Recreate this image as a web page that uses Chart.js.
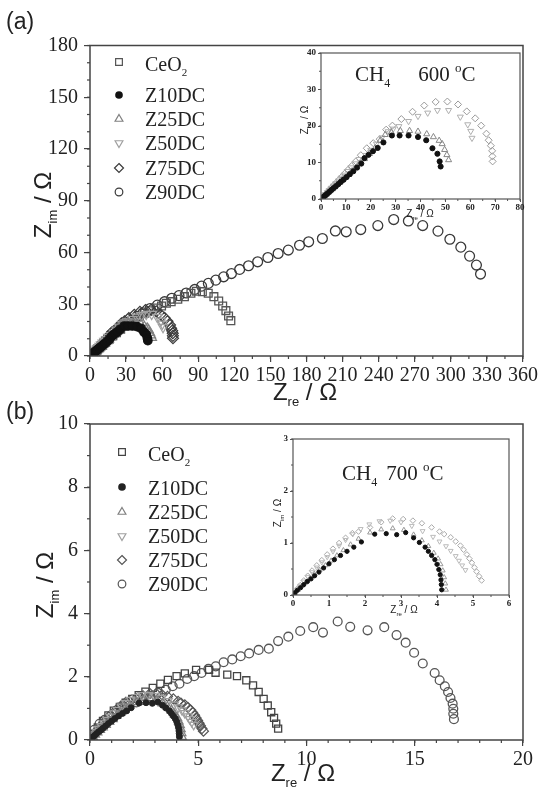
<!DOCTYPE html>
<html><head><meta charset="utf-8">
<script src="https://cdn.jsdelivr.net/npm/chart.js@4.4.1/dist/chart.umd.min.js"></script>
<style>
body{margin:0;width:542px;height:787px;background:#fff;position:relative;overflow:hidden}
canvas{position:absolute}
.t{position:absolute;white-space:nowrap;line-height:1;color:#222;z-index:5}
.ser{font-family:"Liberation Serif","Times New Roman",serif}
.san{font-family:"Liberation Sans",Arial,sans-serif}
.c{transform:translate(-50%,-50%)}
.r{transform:translate(-50%,-50%) rotate(-90deg)}
</style></head><body>
<canvas id="ca" width="542" height="400" style="left:0;top:0"></canvas>
<canvas id="cb" width="542" height="387" style="left:0;top:400px"></canvas>
<canvas id="cai" width="262" height="185" style="left:280px;top:40px"></canvas>
<canvas id="cbi" width="287" height="190" style="left:255px;top:430px"></canvas>

<div class="t san" style="left:6px;top:10px;font-size:23px">(a)</div>
<div class="t san" style="left:6px;top:400px;font-size:23px">(b)</div>

<div class="t san c" style="left:305px;top:394px;font-size:24px">Z<sub style="font-size:13px;vertical-align:-6px">re</sub> / Ω</div>
<div class="t san r" style="left:45px;top:205px;font-size:24px">Z<sub style="font-size:13px;vertical-align:-6px">im</sub> / Ω</div>
<div class="t san c" style="left:303px;top:775px;font-size:24px">Z<sub style="font-size:13px;vertical-align:-6px">re</sub> / Ω</div>
<div class="t san r" style="left:47px;top:585px;font-size:24px">Z<sub style="font-size:13px;vertical-align:-6px">im</sub> / Ω</div>

<div class="t san c" style="left:420px;top:215px;font-size:10px">Z<sub style="font-size:6px;vertical-align:-3px">re</sub> / Ω</div>
<div class="t san r" style="left:306px;top:120px;font-size:10px">Z<sub style="font-size:6px;vertical-align:-3px">im</sub> / Ω</div>
<div class="t san c" style="left:404px;top:611px;font-size:10px">Z<sub style="font-size:6px;vertical-align:-3px">re</sub> / Ω</div>
<div class="t san r" style="left:279px;top:513px;font-size:10px">Z<sub style="font-size:6px;vertical-align:-3px">im</sub> / Ω</div>

<div class="t ser" style="left:355px;top:61px;font-size:21px">CH<sub style="font-size:12px;vertical-align:-6px">4</sub><span style="margin-left:28px">600 </span><sup style="font-size:13px;vertical-align:9px">o</sup>C</div>
<div class="t ser" style="left:342px;top:460px;font-size:21px">CH<sub style="font-size:12px;vertical-align:-6px">4</sub><span style="margin-left:9px">700 </span><sup style="font-size:13px;vertical-align:9px">o</sup>C</div>

<div class="t ser" style="left:145px;top:54px;font-size:20px">CeO<sub style="font-size:11px;vertical-align:-5px">2</sub></div>
<div class="t ser" style="left:145px;top:85px;font-size:20px">Z10DC</div>
<div class="t ser" style="left:145px;top:109px;font-size:20px">Z25DC</div>
<div class="t ser" style="left:145px;top:133px;font-size:20px">Z50DC</div>
<div class="t ser" style="left:145px;top:158px;font-size:20px">Z75DC</div>
<div class="t ser" style="left:145px;top:182px;font-size:20px">Z90DC</div>

<div class="t ser" style="left:148px;top:444px;font-size:20px">CeO<sub style="font-size:11px;vertical-align:-5px">2</sub></div>
<div class="t ser" style="left:148px;top:478px;font-size:20px">Z10DC</div>
<div class="t ser" style="left:148px;top:502px;font-size:20px">Z25DC</div>
<div class="t ser" style="left:148px;top:526px;font-size:20px">Z50DC</div>
<div class="t ser" style="left:148px;top:550px;font-size:20px">Z75DC</div>
<div class="t ser" style="left:148px;top:574px;font-size:20px">Z90DC</div>

<script>
// ---------- DATA (Z_re, Z_im) in ohm ----------
// Panel (a): CH4, 600 °C
const a_CeO2 = [[1.5,0.8],[3.5,2],[5.5,3.3],[8,4.8],[10.5,6.3],[13,8],[16,9.8],[19,11.7],[22,13.5],[25.5,15.5],[29,17.5],[33,19.5],[37,21.3],[41,23],[45.5,24.8],[50,26.2],[55,27.8],[59.5,29],[63.5,30.6],[67.5,31.5],[73,32.9],[78.5,34.4],[83.9,36.4],[88.5,37.5],[93.4,37.3],[98.3,36.4],[103,34.4],[107,31.9],[110.3,29],[113,26.3],[115.2,23.2],[117.1,20.5]];
const a_Z10DC = [[0.6,0.3],[1.2,0.7],[1.9,1.1],[2.6,1.5],[3.4,2],[4.2,2.5],[5.1,3],[6,3.5],[7,4.1],[8,4.7],[9.1,5.3],[10.3,6],[11.6,6.8],[13,7.6],[14.5,8.6],[16.2,9.7],[17.5,11.2],[19.1,12.1],[20.9,13.1],[22.8,14],[25.1,15.5],[28.5,17.4],[31.6,17.4],[35.2,17.4],[39,17],[42.3,16.1],[44.8,13.9],[46.8,12.4],[47.7,10.3],[48.1,8.9]];
const a_Z25DC = [[0.6,0.35],[1.3,0.8],[2,1.2],[2.8,1.7],[3.6,2.2],[4.5,2.7],[5.4,3.3],[6.4,3.9],[7.4,4.5],[8.5,5.2],[9.7,5.9],[11,6.7],[12.4,7.6],[14,8.6],[15.7,9.8],[17.5,11],[19.5,12.4],[21.7,13.9],[23.8,16],[25.8,17.6],[28.3,18.3],[31.9,18.7],[35.6,18.7],[39,18.5],[42.5,17.8],[45.2,17],[47.5,16],[48.7,15.1],[49.7,13.5],[50.6,12.1],[51.3,10.7]];
const a_Z50DC = [[0.5,0.35],[1.1,0.8],[1.8,1.3],[2.5,1.8],[3.3,2.4],[4.1,3],[5,3.6],[6,4.3],[7,5],[8.1,5.8],[9.3,6.6],[10.6,7.6],[12,8.6],[13.6,9.7],[15.3,10.9],[18,12],[20,13.4],[22.3,15.1],[24.5,16.8],[27,18.5],[29,19.2],[31.3,19.9],[35.2,21.3],[39,22.7],[42.9,23.6],[46.8,24.3],[51.3,24.3],[56,22.5],[59,20.4],[60.2,18.6],[60.7,16.7]];
const a_Z75DC = [[0.5,0.4],[1.1,0.85],[1.8,1.35],[2.6,1.9],[3.4,2.5],[4.3,3.1],[5.2,3.8],[6.2,4.5],[7.3,5.3],[8.4,6.1],[9.6,7],[10.9,8],[12.3,9],[14,10.3],[16,12],[18.4,13.9],[21,15.3],[23.6,16.4],[26.2,19],[28.7,20.1],[32.3,21.9],[36.8,23.9],[41.5,25.6],[46.1,26.6],[50.8,26.7],[55.1,25.9],[58.6,24],[62,22.1],[64.4,20.1],[66.5,17.9],[67.4,16.1],[68.3,14.6],[68.8,13.2],[68.9,11.7],[69,10.3]];
const a_Z90DC = [[3,1],[6,3],[10,6],[14,9],[19,12],[24,15],[29,18],[34,20.5],[39,23],[44,25],[50,27.5],[56,29.5],[62,31.5],[68,33.5],[74,35],[80,36.5],[87.1,38.6],[92.8,40.5],[98.4,42.1],[104.6,44],[111.1,45.9],[117.6,47.8],[124.4,50.2],[131.8,52.3],[139.4,54.6],[147.9,57.1],[156.4,59.4],[164.9,61.4],[174.2,64.2],[181.8,66.2],[193.2,68.1],[204,72.5],[213,72],[225.1,73.3],[239.3,75.6],[252.5,79.1],[264.7,78.3],[276.6,75.6],[289.3,72.4],[299.2,67.7],[308.3,63.1],[315.6,57.9],[321.3,52.7],[324.7,47.5]];

// Panel (b): CH4, 700 °C
const b_CeO2 = [[0.13,0.2],[0.36,0.4],[0.6,0.6],[0.85,0.78],[1.1,0.93],[1.38,1.05],[1.65,1.18],[1.95,1.3],[2.25,1.42],[2.56,1.53],[2.9,1.65],[3.25,1.78],[3.6,1.9],[4.0,2.02],[4.38,2.11],[4.9,2.22],[5.5,2.22],[5.8,2.13],[6.34,2.07],[6.79,2.02],[7.22,1.89],[7.53,1.73],[7.79,1.52],[8.02,1.3],[8.21,1.09],[8.37,0.88],[8.5,0.7],[8.6,0.52],[8.69,0.36]];
const b_Z10DC = [[0.05,0.04],[0.12,0.09],[0.21,0.14],[0.3,0.2],[0.4,0.26],[0.5,0.31],[0.6,0.37],[0.72,0.44],[0.85,0.52],[1.0,0.6],[1.15,0.68],[1.32,0.76],[1.5,0.84],[1.69,0.92],[1.9,1.02],[2.27,1.17],[2.59,1.18],[2.88,1.16],[3.13,1.2],[3.35,1.1],[3.51,1.01],[3.67,0.92],[3.76,0.84],[3.85,0.76],[3.94,0.68],[4.0,0.59],[4.05,0.49],[4.09,0.39],[4.11,0.29],[4.12,0.2],[4.13,0.1]];
const b_Z25DC = [[0.06,0.04],[0.14,0.1],[0.24,0.17],[0.35,0.24],[0.47,0.32],[0.6,0.4],[0.74,0.48],[0.9,0.57],[1.06,0.66],[1.22,0.76],[1.4,0.86],[1.6,0.97],[1.82,1.08],[2.14,1.2],[2.45,1.26],[2.77,1.28],[3.08,1.25],[3.35,1.16],[3.58,1.05],[3.76,0.94],[3.91,0.81],[4.03,0.7],[4.1,0.59],[4.16,0.47],[4.2,0.34],[4.23,0.22],[4.25,0.1]];
const b_Z50DC = [[0.05,0.05],[0.12,0.11],[0.2,0.18],[0.3,0.26],[0.41,0.35],[0.53,0.44],[0.66,0.53],[0.8,0.63],[0.95,0.73],[1.11,0.84],[1.28,0.95],[1.46,1.06],[1.66,1.17],[1.88,1.27],[2.12,1.36],[2.4,1.42],[2.7,1.43],[3.0,1.4],[3.3,1.33],[3.6,1.23],[3.89,1.12],[4.07,1.03],[4.25,0.94],[4.38,0.85],[4.52,0.75],[4.61,0.66],[4.7,0.57],[4.79,0.48]];
const b_Z75DC = [[0.05,0.05],[0.12,0.12],[0.2,0.19],[0.3,0.28],[0.41,0.37],[0.53,0.47],[0.66,0.57],[0.8,0.67],[0.95,0.78],[1.11,0.89],[1.28,1.0],[1.46,1.1],[1.65,1.19],[1.82,1.22],[2.14,1.3],[2.45,1.4],[2.77,1.47],[3.06,1.46],[3.33,1.43],[3.58,1.38],[3.85,1.3],[4.07,1.22],[4.2,1.17],[4.38,1.11],[4.52,1.03],[4.65,0.95],[4.74,0.87],[4.83,0.78],[4.9,0.7],[4.97,0.62],[5.04,0.53],[5.1,0.45],[5.17,0.36],[5.24,0.28]];
const b_Z90DC = [[0.09,0.16],[0.2,0.32],[0.44,0.51],[0.68,0.64],[0.94,0.76],[1.23,0.88],[1.51,0.99],[1.82,1.09],[2.14,1.19],[2.45,1.27],[2.8,1.38],[3.14,1.49],[3.5,1.59],[3.82,1.7],[4.13,1.78],[4.49,1.93],[4.81,2.02],[5.15,2.12],[5.47,2.25],[5.81,2.33],[6.17,2.46],[6.57,2.55],[6.96,2.65],[7.35,2.74],[7.79,2.85],[8.26,2.89],[8.69,3.13],[9.16,3.27],[9.71,3.45],[10.31,3.57],[10.76,3.4],[11.44,3.75],[12.02,3.58],[12.82,3.47],[13.59,3.57],[14.16,3.32],[14.58,3.08],[14.97,2.76],[15.37,2.42],[15.92,2.12],[16.15,1.89],[16.39,1.7],[16.54,1.52],[16.65,1.33],[16.75,1.15],[16.78,0.99],[16.78,0.83],[16.81,0.66]];

// axis tick settings
const aTicksX = {min:0, max:360, step:30, minor:15};
const aTicksY = {min:0, max:180, step:30, minor:10};
const aInsetX = {min:0, max:80, step:10, minor:5};
const aInsetY = {min:0, max:40, step:10, minor:5};
const bTicksX = {min:0, max:20, step:5, minor:1};
const bTicksY = {min:0, max:10, step:2, minor:1};
const bInsetX = {min:0, max:6, step:1, minor:0.5};
const bInsetY = {min:0, max:3, step:1, minor:0.5};

// ---------- styling ----------
const SERIF = "'Liberation Serif', 'Times New Roman', serif";
const STY = {
  CeO2:  {ps:'rect', rot:0, fill:false},
  Z10DC: {ps:'circle', rot:0, fill:true},
  Z25DC: {ps:'triangle', rot:0, fill:false},
  Z50DC: {ps:'triangle', rot:180, fill:false},
  Z75DC: {ps:'rectRot', rot:0, fill:false},
  Z90DC: {ps:'circle', rot:0, fill:false}
};
const pts = arr => arr.map(p => ({x:p[0], y:p[1]}));
function ds(name, arr, color, r, bw){
  const s = STY[name];
  return {label:name, data:pts(arr), pointStyle:s.ps, rotation:s.rot,
    pointRadius: s.ps==='circle' ? r*0.85 : r, pointHoverRadius: r, pointBorderWidth:bw,
    pointBorderColor:color, pointBackgroundColor: s.fill ? color : 'rgba(0,0,0,0)', showLine:false};
}

function drawMarker(ctx, name, x, y, r, color){
  const s = STY[name];
  ctx.save(); ctx.strokeStyle=color; ctx.fillStyle=color; ctx.lineWidth=1.2;
  ctx.beginPath();
  if (s.ps==='circle'){ ctx.arc(x,y,r*0.85,0,Math.PI*2); }
  else if (s.ps==='rect'){ const h=r*0.75; ctx.rect(x-h,y-h,2*h,2*h); }
  else if (s.ps==='rectRot'){ ctx.moveTo(x,y-r); ctx.lineTo(x+r,y); ctx.lineTo(x,y+r); ctx.lineTo(x-r,y); ctx.closePath(); }
  else if (s.ps==='triangle'){
    const d = s.rot ? -1 : 1;
    ctx.moveTo(x, y - d*r); ctx.lineTo(x + r*0.87, y + d*r*0.5); ctx.lineTo(x - r*0.87, y + d*r*0.5); ctx.closePath();
  }
  if (s.fill) ctx.fill(); else ctx.stroke();
  ctx.restore();
}

const framePlugin = {
  id:'frame',
  beforeDraw(chart, args, o){
    if (o.bg){ const a=chart.chartArea, c=chart.ctx; c.save(); c.fillStyle='#fff'; c.fillRect(a.left,a.top,a.right-a.left,a.bottom-a.top); c.restore(); }
  },
  afterDraw(chart, args, o){
    const {ctx, chartArea:a, scales:{x,y}} = chart;
    ctx.save();
    ctx.strokeStyle=o.color; ctx.lineWidth=o.tlw;
    for (let v=x.min; v<=x.max+1e-9; v+=o.mx){ const p=x.getPixelForValue(v); ctx.beginPath(); ctx.moveTo(p,a.bottom); ctx.lineTo(p,a.bottom+o.ml); ctx.stroke(); }
    for (let v=y.min; v<=y.max+1e-9; v+=o.my){ const p=y.getPixelForValue(v); ctx.beginPath(); ctx.moveTo(a.left,p); ctx.lineTo(a.left-o.ml,p); ctx.stroke(); }
    ctx.lineWidth=o.lw;
    ctx.strokeRect(a.left, a.top, a.right-a.left, a.bottom-a.top);
    ctx.restore();
    (o.legend||[]).forEach(L => drawMarker(ctx, L.name, L.x, L.y, L.r, L.color));
  }
};

function build(id, W, H, area, tx, ty, datasets, f){
  return new Chart(document.getElementById(id), {
    type:'scatter',
    data:{datasets},
    options:{
      responsive:false, animation:false, devicePixelRatio:1, events:[],
      layout:{padding:{left:0, top:area.top, right:W-area.right, bottom:0}},
      plugins:{legend:{display:false}, tooltip:{enabled:false},
        frame:{bg:f.bg, color:f.color, lw:f.lw, tlw:f.tlw, ml:f.ml, mx:tx.minor, my:ty.minor, legend:f.legend}},
      scales:{
        x:{type:'linear', min:tx.min, max:tx.max,
          ticks:{stepSize:tx.step, autoSkip:false, maxRotation:0, color:'#222', padding:f.xpad, font:{family:SERIF, size:f.fs, weight:f.fw}},
          grid:{drawOnChartArea:false, drawTicks:true, tickLength:f.tl, color:f.color, lineWidth:f.tlw},
          border:{display:false},
          afterFit(s){ s.height = H-area.bottom; s.paddingLeft=0; s.paddingRight=0; }},
        y:{type:'linear', min:ty.min, max:ty.max,
          ticks:{stepSize:ty.step, autoSkip:false, color:'#222', padding:f.ypad, font:{family:SERIF, size:f.fs, weight:f.fw}},
          grid:{drawOnChartArea:false, drawTicks:true, tickLength:f.tl, color:f.color, lineWidth:f.tlw},
          border:{display:false},
          afterFit(s){ s.width = area.left; s.paddingTop=0; s.paddingBottom=0; }}
      }
    },
    plugins:[framePlugin]
  });
}

const names = ['CeO2','Z10DC','Z25DC','Z50DC','Z75DC','Z90DC'];

// Main (a)
const legA = [62,95,119,143,168,192];
const colA = {CeO2:'#555', Z10DC:'#111', Z25DC:'#808080', Z50DC:'#a0a0a0', Z75DC:'#3a3a3a', Z90DC:'#3a3a3a'};
build('ca', 542, 400, {left:90, top:45.5, right:523, bottom:356}, aTicksX, aTicksY, [
  ds('Z10DC', a_Z10DC, colA.Z10DC, 5, 1.2),
  ds('Z25DC', a_Z25DC, colA.Z25DC, 5.5, 1.2),
  ds('Z50DC', a_Z50DC, colA.Z50DC, 5.5, 1.2),
  ds('Z75DC', a_Z75DC, colA.Z75DC, 5.5, 1.2),
  ds('CeO2', a_CeO2, colA.CeO2, 5.5, 1.3),
  ds('Z90DC', a_Z90DC, colA.Z90DC, 5.8, 1.3)
], {bg:false, color:'#444', lw:1.5, tlw:1.2, ml:3, tl:6, fs:20, fw:'normal', xpad:2, ypad:6,
    legend: names.map((n,i)=>({name:n, x:119, y:legA[i], r:4.5, color:colA[n]}))});

// Inset (a)
const colAi = {Z10DC:'#111', Z25DC:'#888', Z50DC:'#b0b0b0', Z75DC:'#9a9a9a'};
build('cai', 262, 185, {left:41, top:13, right:240, bottom:159}, aInsetX, aInsetY, [
  ds('Z10DC', a_Z10DC, colAi.Z10DC, 3, 1),
  ds('Z25DC', a_Z25DC, colAi.Z25DC, 3.5, 1),
  ds('Z50DC', a_Z50DC, colAi.Z50DC, 3.5, 1),
  ds('Z75DC', a_Z75DC, colAi.Z75DC, 3.5, 1)
], {bg:true, color:'#555', lw:1.2, tlw:1, ml:2, tl:3, fs:9, fw:'bold', xpad:0, ypad:2});

// Main (b)
const legB = [452,487,512,536,560,584].map(v=>v-400);
const colB = {CeO2:'#444', Z10DC:'#222', Z25DC:'#808080', Z50DC:'#a0a0a0', Z75DC:'#555', Z90DC:'#555'};
build('cb', 542, 387, {left:90, top:24, right:523, bottom:340}, bTicksX, bTicksY, [
  ds('Z10DC', b_Z10DC, colB.Z10DC, 3.5, 1),
  ds('Z25DC', b_Z25DC, colB.Z25DC, 5, 1.2),
  ds('Z50DC', b_Z50DC, colB.Z50DC, 5, 1.2),
  ds('Z75DC', b_Z75DC, colB.Z75DC, 5, 1.2),
  ds('CeO2', b_CeO2, colB.CeO2, 5, 1.3),
  ds('Z90DC', b_Z90DC, colB.Z90DC, 5.2, 1.3)
], {bg:false, color:'#444', lw:1.5, tlw:1.2, ml:3, tl:6, fs:20, fw:'normal', xpad:2, ypad:6,
    legend: names.map((n,i)=>({name:n, x:122, y:legB[i], r:4.5, color:colB[n]}))});

// Inset (b)
const colBi = {Z10DC:'#111', Z25DC:'#999', Z50DC:'#bbb', Z75DC:'#aaa'};
build('cbi', 287, 190, {left:38, top:9, right:254, bottom:165}, bInsetX, bInsetY, [
  ds('Z10DC', b_Z10DC, colBi.Z10DC, 2.5, 1),
  ds('Z25DC', b_Z25DC, colBi.Z25DC, 2.8, 1),
  ds('Z50DC', b_Z50DC, colBi.Z50DC, 2.8, 1),
  ds('Z75DC', b_Z75DC, colBi.Z75DC, 2.8, 1)
], {bg:true, color:'#555', lw:1.2, tlw:1, ml:2, tl:3, fs:9, fw:'bold', xpad:0, ypad:2});
</script>
</body></html>
